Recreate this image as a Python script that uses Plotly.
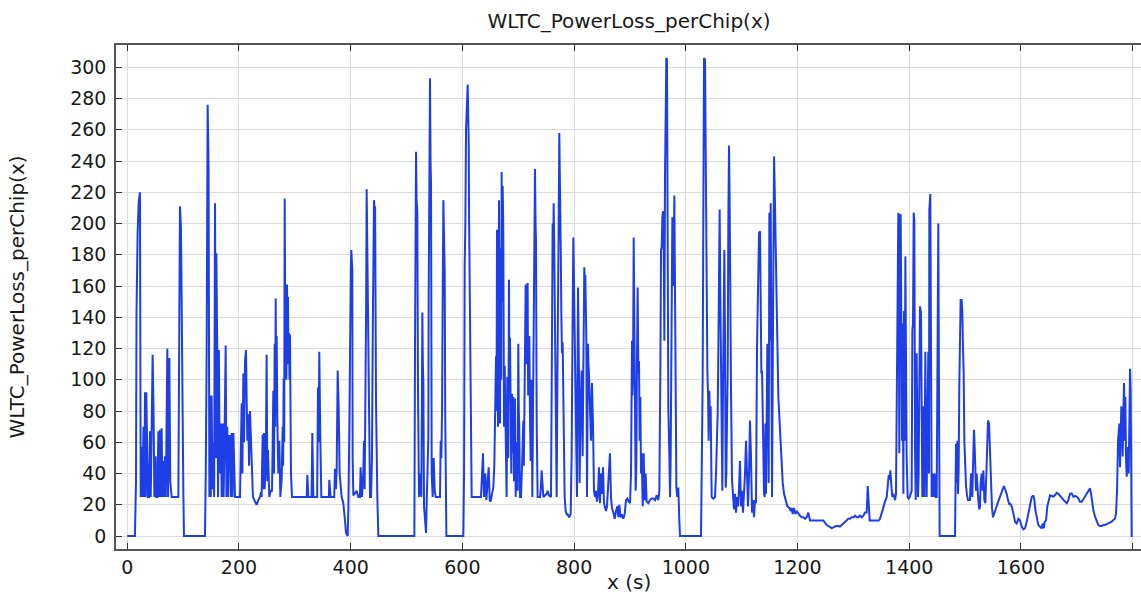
import plotly.graph_objects as go

# WLTC phases (time in s, power loss per chip)
low_t = [0, 13.7, 15.6, 16.5, 18.5, 20.5, 22.7, 24, 25.7, 27, 29, 30.5, 31.7, 33, 34, 35.9, 37, 39, 40.6, 42, 43.5,
         45.4, 47, 48.5, 50.8, 52, 54, 55.6, 57, 58.5, 60, 61.5, 63, 64.5, 66, 67.5, 69, 70.5, 71.7, 73, 75.3, 77,
         79.4, 91.4, 92.5, 94.3, 96.1, 98, 99.1, 100.5, 101.5, 139.1, 140.5, 142.1, 143.9, 145.5, 147, 148.1, 149.5,
         151, 152.5, 154, 155.5, 157.1, 158.5, 159.5, 161.2, 162.5, 164, 165.5, 167.8, 169, 171, 172.5, 174, 176.2,
         177.5, 179, 180.5, 182, 183.9, 185.5, 187, 188.5, 190, 192.9,
         201.8, 204.8, 206, 207.8, 209, 210.8, 212.5, 213.5, 214.9, 216.7, 218, 219.7, 221.5, 223.3, 225, 228.7,
         231.6, 234.6, 237.6, 239.4, 240.5, 242.4, 243.5, 244.8, 246, 247.2, 248.3, 249.5, 250.7, 251.9, 253, 254.3,
         256.7, 259.1, 260.3, 261.5, 262.7, 263.9, 264.8, 265.7, 266.6, 267.5, 268.6, 270.4, 272.2, 274, 276.4,
         278.2, 279, 280, 281, 281.8, 282.7, 283.6, 284.8, 286, 287, 287.7, 288.6, 289.5, 290.4, 291.3, 293.1,
         294.9, 321.2, 322.4, 324.1, 330, 331.3, 333.1, 340, 341.4, 342.5, 343.8, 345.6, 347.4, 361, 361.7, 364.1,
         370.5, 371.9, 373.5, 374.9, 376.7, 378.5, 380.2, 383.8, 386.8, 389.8, 391.6, 394.6, 395.8, 397.5, 398.3,
         399.3, 400.2, 401.1, 402.9, 403.5, 404.7, 407, 410.7, 413.7, 416.5, 417.8, 419, 420.2, 422.5, 423.8, 425,
         426.8, 427.7, 428.6, 429.5, 430.4, 431.2, 432.2, 433.4, 434.6, 436.5, 438.1, 439.4, 440.5, 441.7, 442.7,
         443.7, 445.3, 446.5, 447.7, 449.5, 514, 515.2, 516, 517, 518, 519.3, 520.5, 522.3, 524.1, 525.3, 526.5,
         527.4, 528.3, 529.2, 530.1, 531.3, 533.1, 534.9, 536, 537.3, 538, 539, 539.6, 540.2, 541.1, 542, 543,
         543.8, 544.5, 545, 546.8, 548.6, 550.4, 552.2, 559.9, 561.1, 562.3, 563.5, 564.7, 565.9, 567.2, 568.3,
         569.2, 570.1, 571.3]
low_p = [0, 0, 35, 142, 194, 214, 220, 25, 57, 25, 70, 25, 92, 25, 92, 53, 25, 25, 67, 25, 60,
         116, 81, 25, 51, 25, 25, 67, 25, 68, 25, 69, 25, 48, 25, 51, 25, 100, 120, 25, 114, 35,
         25, 25, 136, 211, 198, 96, 96, 25, 0, 0, 40, 119, 276, 238, 25, 90, 25,
         90, 30, 60, 25, 213, 50, 181, 113, 25, 119, 40, 72, 25, 72, 25, 60, 122,
         25, 70, 25, 64, 64, 25, 66, 25, 66, 25,
         25, 85, 40, 104, 60, 112, 119, 70, 61, 78, 45, 80, 61, 40, 25, 22,
         20, 23, 25, 28, 25, 65, 30, 66, 30, 42, 60, 116, 35, 55, 25, 25,
         29, 29, 60, 93, 40, 123, 70, 152, 100, 128, 76, 40, 61, 25, 36,
         70, 45, 101, 60, 216, 150, 151, 100, 161, 120, 153, 110, 130, 100, 129, 40,
         25, 25, 39, 25, 25, 66, 25, 25, 95, 60, 118, 63, 25, 25, 36, 25,
         25, 43, 30, 42, 106, 82, 40, 25, 21, 10, 2, 0, 18, 66, 110,
         149, 170, 183, 170, 50, 26, 27, 29, 25, 25, 44, 25, 25, 40, 61, 30,
         98, 150, 222, 190, 168, 100, 72, 40, 25, 25, 50, 125, 180, 215, 210,
         211, 87, 25, 25, 0, 0, 123, 200, 246, 215, 208, 95, 25, 40, 25, 25,
         80, 143, 110, 98, 19, 6, 2, 20, 40, 60, 63, 150, 187, 260, 293, 240,
         226, 120, 40, 25, 50, 29, 25, 25, 61, 50, 79, 150, 215, 190, 170,
         80, 23, 0]

medium_t = [601.7, 603, 604.1, 605.3, 606.5, 608, 609.5, 610.4, 611.3, 612.1, 613, 614, 614.8, 616.6, 633.3, 635.1,
            636.9, 638.7, 641.1, 642.9, 644.7, 647.1, 648.9, 650.6, 653, 655.4, 657.2, 659, 660.2, 661.1, 662, 663,
            663.8, 664.7, 665.6, 666.5, 667.4, 668, 668.6, 669.5, 670.3, 671.2, 672.1, 673, 673.3, 674.5, 675.7,
            676.8, 678, 679.2, 680.4, 681.3, 682.2, 683.4, 684.3, 685.2, 686.4, 687.6, 688.8, 690, 691.2, 692.4,
            693.3, 694.2, 695.4, 696.3, 697.1, 698.9, 700.1, 701, 701.9, 703.1, 704.9, 706.7, 707.9, 709.1, 710,
            710.9, 712.1, 713.3, 714.2, 715, 715.9, 716.8, 717.7, 718.6, 719.8, 721, 722.2, 723.1, 724, 725.2,
            726.1, 727.1, 728, 728.8, 730, 731, 731.8, 733, 734.7, 738.9, 740.4, 741.9, 743.7, 744.9, 750.9, 752.6,
            755, 758.6, 759.8, 760.7, 761.6, 762.5, 763.4, 764.3, 765.2, 766.1, 767, 768.8, 769.7, 770.5, 771.4,
            772.3, 773, 773.5, 774.4, 775.3, 776.2, 777.1, 778.3, 779.5, 780.4, 781.3, 783.1, 784.9, 786.7, 788.5,
            790.8, 793.8, 795.6, 796.5, 797.4, 798, 798.6, 799.5, 800.4, 801.3, 802.2, 803.1, 804, 805.2, 806.1,
            807, 807.9, 808.7, 809.9, 810.8, 811.7, 812.6, 813.5, 814.4, 815.3, 816.5, 817.4, 818.3, 819.2, 820.1,
            821, 821.9, 823.1, 824, 824.9, 825.7, 826.6, 827.5, 828.4, 829.3, 830.2, 832, 833, 833.8, 835.6, 837.4,
            839.2, 841, 842.8, 844.5, 846.3, 848.1, 849.9, 851.7, 853.5, 855.3, 857.1, 858.9, 860.7, 862.5, 864.2,
            866, 867.8, 870.2, 872.6, 875, 877.4, 879.2, 881, 883.3, 885.7, 888.1, 890.5, 892.9, 895.3, 897.7,
            900.1, 901.9, 903.7, 904.5, 905.5, 906.7, 907.9, 909.1, 910.2, 911.4, 912.6, 913.8, 915, 916.2, 917.4,
            918.6, 919.8, 921, 922.8, 924.6, 926.4, 928.1, 929.9, 932.9, 935.9, 938.9, 941.9, 944.9, 947.8, 950.8,
            952.6, 953.5, 954.4, 955.6, 956.8, 958, 959.2, 960.4, 961.6, 962.8, 964, 965.1, 966.3, 967.5, 968.7,
            970.5, 971.7, 972.9, 974.1, 975.9, 976.8, 977.7, 979.5, 980.7, 981.9, 983.1, 984.8, 986.6, 988.4, 989.6]
medium_p = [0, 40, 173, 200, 260, 275, 289, 270, 253, 200, 155, 100, 64, 25, 25, 40,
            53, 25, 40, 23, 36, 44, 23, 22, 27, 31, 46, 91, 115, 80, 196, 120,
            70, 150, 215, 120, 72, 150, 184, 100, 233, 150, 224, 203, 186, 70, 109,
            70, 50, 25, 102, 60, 50, 164, 100, 127, 83, 40, 91, 53, 89, 35,
            60, 88, 25, 60, 51, 29, 123, 80, 68, 25, 25, 44, 70, 74, 45,
            94, 120, 161, 110, 143, 120, 162, 90, 113, 128, 76, 48, 80, 100, 25,
            60, 76, 150, 185, 235, 200, 189, 72, 25, 25, 30, 42, 34, 25, 27, 29,
            26, 25, 92, 160, 200, 180, 213, 190, 164, 120, 94, 25, 80, 140, 160,
            189, 230, 258, 240, 221, 180, 143, 117, 124, 100, 72, 25, 16, 14, 14,
            12, 14, 51, 100, 136, 170, 191, 170, 149, 120, 104, 80, 61, 25, 100,
            159, 130, 104, 34, 60, 83, 100, 106, 80, 51, 106, 140, 172, 160, 167,
            140, 125, 25, 80, 123, 110, 104, 90, 72, 65, 61, 98, 85, 72, 29, 25,
            29, 22, 27, 44, 21, 40, 27, 44, 21, 17, 16, 19, 29, 36, 53,
            25, 18, 15, 11, 16, 19, 12, 20, 12, 14, 11, 14, 23, 24, 22,
            21, 40, 125, 90, 104, 191, 153, 82, 29, 44, 113, 159, 104, 112, 61,
            89, 40, 53, 19, 53, 23, 40, 22, 21, 23, 24, 24, 23, 26, 23,
            29, 60, 104, 183, 185, 204, 208, 183, 125, 232, 279, 306, 305, 186, 82,
            53, 25, 50, 132, 204, 170, 160, 218, 132, 61, 31, 25, 31, 10, 0]

high_t = [1027.2, 1029, 1030.2, 1031.4, 1032.6, 1034.4, 1035.3, 1036.2, 1037.4, 1038.6, 1039.8, 1040.9, 1042.1,
          1043.3, 1044.5, 1046.3, 1049.3, 1052.3, 1054.1, 1055.9, 1057.1, 1058.3, 1059.4, 1060.6, 1061.8, 1063,
          1064.2, 1065.4, 1066.6, 1067.8, 1069, 1070.2, 1071.4, 1072.6, 1073.8, 1075, 1076.2, 1077.4, 1078.5,
          1079.7, 1080.9, 1082.7, 1084.5, 1086.3, 1088.1, 1089.9, 1091.7, 1093.5, 1095.2, 1097, 1098.8, 1100.6,
          1102.4, 1104.2, 1106, 1107.8, 1109.6, 1111.4, 1113.2, 1114.9, 1116.7, 1118.5, 1120.3, 1122.1, 1123.9,
          1125.7, 1127.5, 1129.3, 1131.1, 1132.9, 1134.1, 1135.3, 1136.5, 1137.7, 1138.9, 1140.1, 1141.3, 1142.4,
          1143.6, 1144.8, 1146, 1147.2, 1148.4, 1149.6, 1150.8, 1152, 1153.2, 1154.4, 1155.6, 1156.8, 1158,
          1159.2, 1160.4, 1161.5, 1162.7, 1163.9, 1165.7, 1167.5, 1169.9, 1171.7, 1173.5, 1175.9, 1178.9, 1181.8,
          1185.4, 1187.8, 1189.6, 1191.4, 1193.8, 1196.2, 1198.5, 1201.5, 1204.5, 1207.5, 1210.5, 1213.5, 1216.5,
          1219.4, 1222.4, 1225.4, 1228.4, 1234.4, 1240.3, 1246.3, 1252.3, 1258.2, 1261.2, 1264.2, 1269, 1273.1,
          1276.1, 1279.1, 1282.1, 1286.9, 1291, 1294, 1297, 1300, 1303, 1306, 1308.9, 1311.9, 1314.9, 1317.9,
          1320.9, 1323.9, 1325.7, 1327.5, 1329.2, 1331.6, 1334.6, 1337.6, 1340.6, 1343, 1345.4, 1347.7, 1350.7,
          1353.7, 1356.7, 1359.7, 1361.5, 1363.3, 1365.1, 1366.2, 1368, 1369.8, 1371.6, 1373.4, 1374.6, 1376.3,
          1378.1, 1379.3, 1380.5, 1381.4, 1382.3, 1383.5, 1384.7, 1385.9, 1387.1, 1388.3, 1389.5, 1390.7, 1391.9,
          1393.1, 1394.2, 1395.4, 1397.2, 1399, 1400.8, 1402.6, 1404.4, 1405.6, 1406.8, 1408, 1409.2, 1410.4,
          1411.6, 1413.3, 1414.5, 1415.7, 1416.9, 1418.1, 1419.3, 1421.1, 1422.3, 1423.5, 1424.7, 1425.9, 1427.1,
          1428.9, 1430.1, 1431.2, 1433, 1434.2, 1435.4, 1436, 1437.8, 1439, 1440.2, 1442, 1443.8, 1445.6, 1447.4,
          1449.2, 1450.3, 1452.1, 1453.3, 1454.5]
high_p = [0, 61, 100, 207, 306, 305, 250, 207, 147, 106, 91, 61, 93,
          72, 83, 25, 24, 25, 40, 68, 79, 121, 197, 209, 155, 100,
          44, 29, 93, 147, 183, 125, 31, 40, 76, 104, 204, 250, 213,
          115, 94, 36, 27, 17, 27, 15, 25, 19, 30, 48, 19, 29,
          15, 25, 40, 61, 34, 19, 40, 74, 51, 15, 23, 12, 23,
          21, 121, 170, 194, 195, 134, 104, 106, 82, 40, 27, 25, 72,
          27, 91, 123, 104, 34, 207, 125, 213, 125, 25, 104, 200, 243,
          222, 190, 187, 147, 125, 89, 74, 55, 40, 34, 27, 23, 19,
          18, 16, 18, 14, 18, 14, 16, 14, 13, 12, 12, 11, 12,
          15, 10, 10, 10, 10, 10, 10, 7, 6, 5, 5.5, 6.4, 6.4,
          6, 7, 8, 10, 11, 11, 12, 12, 13, 12, 12, 13, 12, 13,
          15, 15, 32, 21, 10, 10, 10, 10, 10, 10, 10, 11, 15,
          19, 22, 25, 36, 39, 36, 42, 32, 25, 27, 23, 23, 27,
          96, 175, 207, 150, 53, 205, 206, 138, 61, 136, 27, 144, 61,
          179, 57, 51, 25, 24, 25, 27, 29, 132, 136, 207, 202, 57,
          23, 117, 61, 25, 40, 93, 147, 143, 76, 25, 75, 83, 25,
          118, 61, 25, 85, 118, 40, 209, 219, 117, 25, 40, 25, 40, 25,
          25, 128, 200, 93, 0]

extra_high_t = [1482, 1482.6, 1483.8, 1485, 1486.2, 1487.3, 1488.5, 1489.7, 1490.9, 1492.1, 1493.9, 1495.1, 1496.3,
                1497.5, 1498.7, 1499.9, 1501.7, 1503.5, 1505.2, 1507, 1508.8, 1510.6, 1513, 1514.8, 1516, 1517.2,
                1518.4, 1519.6, 1520.8, 1522, 1523.7, 1525.5, 1526.7, 1527.9, 1529.7, 1531.5, 1532.7, 1534.5, 1536.3,
                1538.1, 1539.9, 1541.1, 1542.9, 1544, 1545.2, 1546.4, 1548.2, 1550, 1551.8, 1553.6, 1555.4, 1557.8,
                1560.2, 1562.5, 1564.9, 1567.3, 1569.7, 1572.1, 1574.5, 1576.9, 1579.3, 1580.5, 1583.5, 1586.5,
                1589.5, 1592.4, 1595.4, 1598.4, 1601.4, 1604.4, 1607.4, 1610.3, 1613.3, 1616.3, 1619.3, 1622.3,
                1624.1, 1625.9, 1628.2, 1631.2, 1634.2, 1637.2, 1639, 1640.8, 1642.6, 1645, 1647.3, 1649.7, 1652.1,
                1655.1, 1658.1, 1661.1, 1664.1, 1667, 1670, 1673, 1676, 1679, 1682, 1684.9, 1687.9, 1690.9, 1693.9,
                1696.9, 1699.9, 1702.8, 1705.8, 1708.8, 1711.8, 1714.8, 1717.8, 1720.7, 1723.7, 1725.5, 1727.3,
                1729.7, 1732.7, 1735.7, 1738.7, 1741.6, 1744.6, 1747.6, 1750.6, 1753.6, 1756.6, 1759.5, 1762.5,
                1765.5, 1768.5, 1770.3, 1772.1, 1773.9, 1775.1, 1776.3, 1777.4, 1778.6, 1779.8, 1781, 1782.2, 1783.4,
                1784.6, 1785.8, 1787, 1788.2, 1789.4, 1790.6, 1791.8, 1793, 1794.2, 1795.4, 1796.5, 1797.7, 1798.3,
                1800]
extra_high_p = [0, 36, 59, 34, 61, 27, 42, 97, 132, 151, 151, 143, 121,
                104, 61, 40, 32, 26, 23, 23, 23, 40, 25, 53, 68, 57,
                44, 29, 40, 29, 23, 17, 19, 34, 40, 29, 42, 23, 21,
                40, 61, 74, 72, 59, 42, 29, 18, 12, 14, 17, 19, 21,
                23, 25, 28, 30, 32, 30, 27, 23, 20, 21, 19, 14.5,
                9, 8, 11, 10, 6, 4.3, 5, 9, 14.5, 19.8, 25, 26,
                23, 16.6, 11.3, 7, 6, 5, 8, 5, 9, 10, 19, 23, 26,
                25.6, 25.2, 26.2, 27.7, 27, 25.6, 24.7, 23, 22, 21, 23, 27, 27.3, 25.2,
                25.6, 25.2, 24.1, 22, 22, 23.5, 25.2, 27.3, 29.4, 30.5, 27.3, 22,
                16.6, 12.4, 9.2, 7, 6.4, 6.4, 7, 7, 7.7, 8.1, 8.5, 9.2,
                10.2, 11.3, 14.5, 29, 61, 70, 72, 44, 61, 83, 72, 51, 78,
                98, 61, 89, 49, 38, 44, 57, 40, 72, 107, 93, 19, 0,
                0]

x_ticks = [0, 200, 400, 600, 800, 1000, 1200, 1400, 1600, 1800]
x_tick_text = ["0", "200", "400", "600", "800", "1000", "1200", "1400", "1600", ""]
y_ticks = list(range(0, 301, 20))

time_s = low_t + medium_t + high_t + extra_high_t
power = low_p + medium_p + high_p + extra_high_p

font = "DejaVu Sans"
fig = go.Figure()
fig.add_trace(go.Scatter(x=time_s, y=power, mode="lines",
                         line=dict(color="rgb(30,62,232)", width=2), showlegend=False))

axis_common = dict(showgrid=True, gridcolor="#dcdcdc", gridwidth=1, zeroline=False,
                   showline=True, linecolor="#555555", linewidth=1.5, automargin=False,
                   ticks="inside", ticklen=6, tickcolor="#333333", tickwidth=1,
                   tickfont=dict(family=font, size=19, color="#1a1a1a"))

fig.update_layout(
    width=1141, height=594,
    margin=dict(l=116, r=0, t=45, b=45),
    paper_bgcolor="white", plot_bgcolor="white",
    title=dict(text="WLTC_PowerLoss_perChip(x)", x=629 / 1141, xanchor="center", xref="container",
               y=1 - 21 / 594, yanchor="middle", yref="container",
               font=dict(family=font, size=20, color="#1a1a1a")),
    xaxis=dict(range=[-20.2, 1815], tickmode="array", tickvals=x_ticks, ticktext=x_tick_text,
               mirror="ticks", **axis_common),
    yaxis=dict(range=[-8.3, 314.3], tickmode="array", tickvals=y_ticks, mirror=False,
               ticklabelstandoff=4,
               title=dict(text="WLTC_PowerLoss_perChip(x)", font=dict(family=font, size=20, color="#1a1a1a"),
                          standoff=40),
               **axis_common),
    annotations=[dict(text="x (s)", xref="paper", yref="paper", x=0.5005, y=-0.065,
                      xanchor="center", yanchor="middle", showarrow=False,
                      font=dict(family=font, size=20, color="#1a1a1a"))],
)

fig.write_html("out.html")
